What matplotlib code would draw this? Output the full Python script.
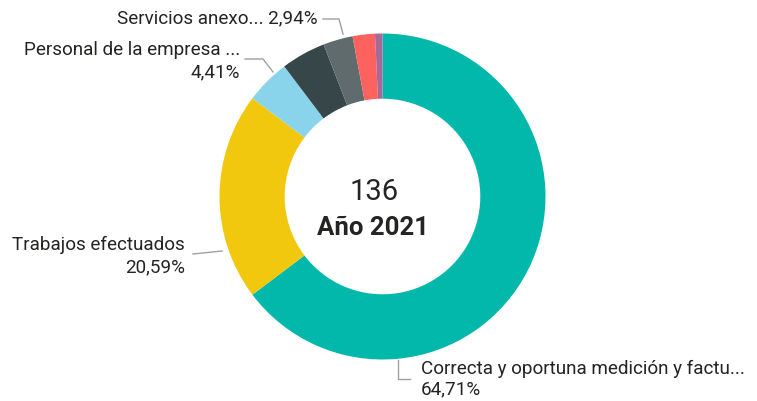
import matplotlib.pyplot as plt

# datos
categorias = ["Correcta y oportuna medición y factu...", "Trabajos efectuados",
              "Personal de la empresa ...", "Otros 1", "Servicios anexo...",
              "Otros 2", "Otros 3"]
valores = [88, 28, 6, 6, 4, 3, 1]
colores = ["#01B8AA", "#F2C80F", "#8AD4EB", "#374649", "#5F6B6D", "#FD625E", "#A66999"]
total = sum(valores)
anio = "Año 2021"

W, H = 757, 402
fig = plt.figure(figsize=(W / 100, H / 100), dpi=100)
ax = fig.add_axes([0, 0, 1, 1])

cx, cy, r = 382.5, H - 197.5, 163
ax.pie(valores, colors=colores, startangle=90, counterclock=False,
       center=(cx, cy), radius=r,
       wedgeprops=dict(width=r * 0.4, linewidth=0))
ax.set_xlim(0, W)
ax.set_ylim(0, H)
ax.set_aspect("equal")
ax.axis("off")

fuente = "Roboto"
ctexto = "#252423"
clinea = "#A0A0A0"
fs = 13.6


def pct(v):
    return f"{v / total * 100:.2f}%".replace(".", ",")


def Y(y):
    return H - y


# texto central
ax.text(374, Y(192), str(total), ha="center", va="center", fontsize=21,
        color=ctexto, family=fuente)
ax.text(373, Y(228), anio, ha="center", va="center", fontsize=18.5,
        fontweight="bold", color=ctexto, family=fuente)

# etiquetas
ax.text(318, Y(18), f"{categorias[4]} {pct(valores[4])}", ha="right", va="center",
        fontsize=fs, color=ctexto, family=fuente)
ax.plot([323, 339, 343], [Y(20), Y(20), Y(35)], color=clinea, lw=1)

ax.text(240, Y(50), categorias[2], ha="right", va="center", fontsize=fs,
        color=ctexto, family=fuente)
ax.text(240, Y(72), pct(valores[2]), ha="right", va="center", fontsize=fs,
        color=ctexto, family=fuente)
ax.plot([245, 263, 273], [Y(60), Y(60), Y(73)], color=clinea, lw=1)

ax.text(185, Y(245), categorias[1], ha="right", va="center", fontsize=fs,
        color=ctexto, family=fuente)
ax.text(185, Y(267), pct(valores[1]), ha="right", va="center", fontsize=fs,
        color=ctexto, family=fuente)
ax.plot([193, 222], [Y(255), Y(252)], color=clinea, lw=1)

ax.text(421, Y(369), categorias[0], ha="left", va="center", fontsize=fs,
        color=ctexto, family=fuente)
ax.text(421, Y(389), pct(valores[0]), ha="left", va="center", fontsize=fs,
        color=ctexto, family=fuente)
ax.plot([398, 398, 410], [Y(361), Y(380), Y(380)], color=clinea, lw=1)

fig.savefig("out.png", dpi=100)
